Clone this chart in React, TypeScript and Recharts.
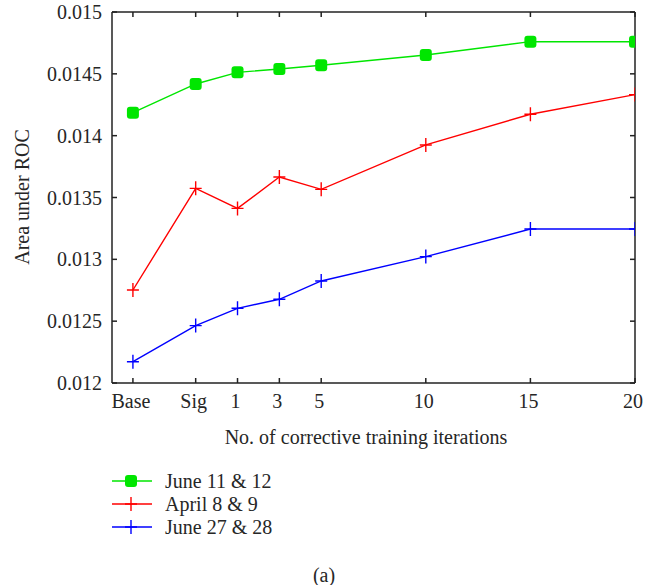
import React from 'react';
import { LineChart, Line, XAxis, YAxis } from 'recharts';

const xPositions = [-4, -1, 1, 3, 5, 10, 15, 20];
const xTickLabels = ['Base', 'Sig', '1', '3', '5', '10', '15', '20'];
const june1112 = [0.014186, 0.014418, 0.014512, 0.014539, 0.014569, 0.014652, 0.01476, 0.01476];
const april89 = [0.012752, 0.013574, 0.013412, 0.013666, 0.013566, 0.013925, 0.014173, 0.014332];
const june2728 = [0.012172, 0.012464, 0.012604, 0.012677, 0.012825, 0.013022, 0.013245, 0.013245];
const yTicks = [0.012, 0.0125, 0.013, 0.0135, 0.014, 0.0145, 0.015];
const seriesNames = ['June 11 & 12', 'April 8 & 9', 'June 27 & 28'];
const seriesColors = ['#00e600', '#ff0000', '#0000ff'];
const seriesKeys = ['june1112', 'april89', 'june2728'];
const xLabel = 'No. of corrective training iterations';
const yLabel = 'Area under ROC';
const caption = '(a)';

const data = xPositions.map((x, i) => ({
  x,
  june1112: june1112[i],
  april89: april89[i],
  june2728: june2728[i],
}));

const FONT = '"Liberation Serif", "DejaVu Serif", serif';
const TEXT = '#262626';
const AXIS = '#222222';
const FS = 20;

const SquareDot = (props: any) => {
  const { cx, cy, fill } = props;
  if (cx == null || cy == null) return null;
  return <rect x={cx - 6} y={cy - 6} width={12} height={12} rx={3} ry={3} fill={fill} />;
};

const PlusDot = (props: any) => {
  const { cx, cy, stroke } = props;
  if (cx == null || cy == null) return null;
  return (
    <path d={`M${cx - 6},${cy}H${cx + 6}M${cx},${cy - 7}V${cy + 7}`} stroke={stroke} strokeWidth={1.4} fill="none" />
  );
};

const xTickFmt = (v: number) => {
  const i = xPositions.indexOf(v);
  return i >= 0 ? xTickLabels[i] : '';
};

export default function App() {
  const tickStyle = { fontFamily: FONT, fontSize: FS, fill: TEXT };
  return (
    <div style={{ position: 'absolute', left: 0, top: 0, width: 657, height: 585, background: '#fff' }}>
      <LineChart width={657} height={585} data={data} margin={{ top: 11, right: 21, bottom: 172, left: 0 }}>
        <XAxis
          dataKey="x"
          type="number"
          domain={[-5, 20]}
          ticks={xPositions}
          tickFormatter={xTickFmt}
          allowDataOverflow
          height={30}
          tickSize={-5}
          tickMargin={16}
          tick={{ ...tickStyle, dx: -2 }}
          stroke={AXIS}
          strokeWidth={1.5}
          interval={0}
        />
        <XAxis
          xAxisId="top"
          orientation="top"
          dataKey="x"
          type="number"
          domain={[-5, 20]}
          ticks={xPositions}
          tickFormatter={() => ''}
          allowDataOverflow
          height={1}
          tickSize={-5}
          stroke={AXIS}
          strokeWidth={1.5}
          interval={0}
        />
        <YAxis
          type="number"
          domain={[0.012, 0.015]}
          ticks={yTicks}
          allowDataOverflow
          width={112}
          tickSize={-5}
          tickMargin={15}
          tick={tickStyle}
          tickFormatter={(v: number) => String(v)}
          stroke={AXIS}
          strokeWidth={1.5}
          interval={0}
        />
        <YAxis
          yAxisId="right"
          orientation="right"
          type="number"
          domain={[0.012, 0.015]}
          ticks={yTicks}
          allowDataOverflow
          width={1}
          tickSize={-5}
          tickFormatter={() => ''}
          stroke={AXIS}
          strokeWidth={1.5}
          interval={0}
        />
        <Line
          xAxisId="top"
          yAxisId="right"
          dataKey="june1112"
          stroke="none"
          dot={false}
          activeDot={false}
          legendType="none"
          isAnimationActive={false}
        />
        {seriesKeys.map((k, i) => (
          <Line
            key={k}
            dataKey={k}
            stroke={seriesColors[i]}
            fill={seriesColors[i]}
            strokeWidth={1.4}
            isAnimationActive={false}
            dot={i === 0 ? <SquareDot /> : <PlusDot />}
            activeDot={false}
            type="linear"
          />
        ))}
      </LineChart>
      <svg width={657} height={585} style={{ position: 'absolute', left: 0, top: 0, pointerEvents: 'none' }}>
        <text x={366} y={444} textAnchor="middle" fontFamily={FONT} fontSize={FS} fill={TEXT}>{xLabel}</text>
        <text x={29} y={197} textAnchor="middle" fontFamily={FONT} fontSize={FS} fill={TEXT} transform="rotate(-90 29 197)">{yLabel}</text>
        {seriesNames.map((name, i) => {
          const y = 481 + i * 23;
          return (
            <g key={name}>
              <line x1={112} x2={152} y1={y} y2={y} stroke={seriesColors[i]} strokeWidth={1.4} />
              {i === 0 ? <SquareDot cx={131} cy={y} fill={seriesColors[i]} /> : <PlusDot cx={131} cy={y} stroke={seriesColors[i]} />}
              <text x={165} y={y + 7} fontFamily={FONT} fontSize={FS} fill={TEXT}>{name}</text>
            </g>
          );
        })}
        <text x={324} y={582} textAnchor="middle" fontFamily={FONT} fontSize={FS} fill={TEXT}>{caption}</text>
      </svg>
    </div>
  );
}
